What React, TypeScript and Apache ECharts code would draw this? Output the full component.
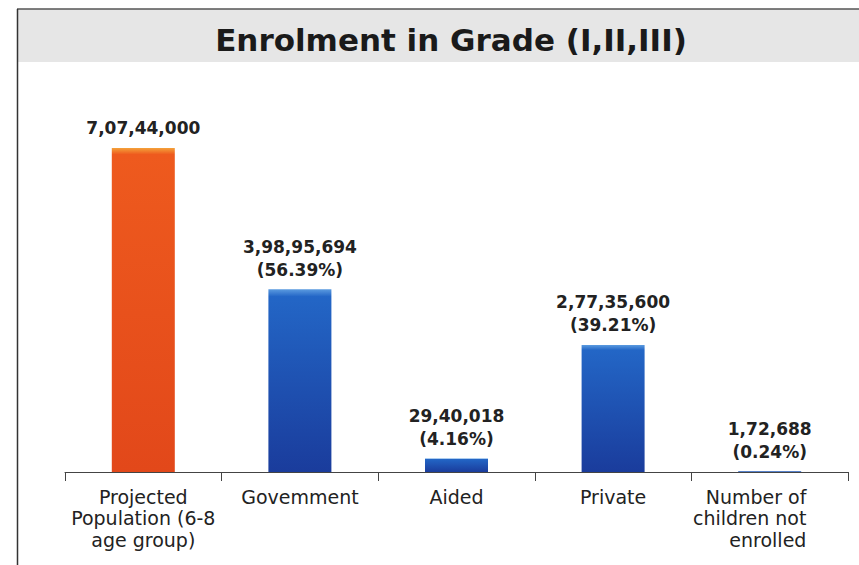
import React, { useEffect, useRef } from "react";
import * as echarts from "echarts";

const categories = [
  "Projected\nPopulation (6-8\nage group)",
  "Govemment",
  "Aided",
  "Private",
  "Number of\nchildren not\nenrolled",
];
const values = [70744000, 39895694, 2940018, 27735600, 172688];
const titleText = "Enrolment in Grade (I,II,III)";

function indianFormat(n: number): string {
  const s = String(Math.round(n));
  if (s.length <= 3) return s;
  const last3 = s.slice(-3);
  let rest = s.slice(0, -3);
  const parts: string[] = [];
  while (rest.length > 2) {
    parts.unshift(rest.slice(-2));
    rest = rest.slice(0, -2);
  }
  if (rest) parts.unshift(rest);
  return parts.join(",") + "," + last3;
}

const FONT = "DejaVu Sans";

export default function App() {
  const ref = useRef<HTMLDivElement>(null);
  useEffect(() => {
    document.body.style.margin = "0";
    const chart = echarts.init(ref.current!, null, { renderer: "svg" });
    const total = values[0];
    const orange = new echarts.graphic.LinearGradient(0, 0, 0, 1, [
      { offset: 0, color: "#F4A23A" },
      { offset: 0.02, color: "#EE5A1E" },
      { offset: 1, color: "#E2481A" },
    ]);
    const blue = () =>
      new echarts.graphic.LinearGradient(0, 0, 0, 1, [
        { offset: 0, color: "#5B9BE0" },
        { offset: 0.04, color: "#2366C6" },
        { offset: 1, color: "#1A3C9C" },
      ]);
    chart.setOption({
      animation: false,
      backgroundColor: "#ffffff",
      graphic: [
        {
          type: "rect",
          shape: { x: 17, y: 9, width: 842, height: 53 },
          style: { fill: "#E6E6E6" },
          z: -1,
        },
        {
          type: "line",
          shape: { x1: 17, y1: 9, x2: 859, y2: 9 },
          style: { stroke: "#555", lineWidth: 1.5 },
        },
        {
          type: "line",
          shape: { x1: 17.5, y1: 9, x2: 17.5, y2: 565 },
          style: { stroke: "#333", lineWidth: 1.5 },
        },
      ],
      title: {
        text: titleText,
        left: 446,
        textAlign: "center",
        top: 19,
        textStyle: {
          fontFamily: FONT,
          fontWeight: "bold",
          fontSize: 31,
          color: "#1a1a1a",
        },
      },
      grid: { left: 65, right: 11, top: 105.6, bottom: 93 },
      xAxis: {
        type: "category",
        data: categories,
        axisLine: { lineStyle: { color: "#444", width: 1 } },
        axisTick: { show: true, length: 9, lineStyle: { color: "#444" } },
        axisLabel: {
          interval: 0,
          margin: 14,
          fontFamily: FONT,
          fontSize: 19,
          lineHeight: 21.5,
          color: "#222",
          formatter: (v: string, i: number) =>
            i === categories.length - 1
              ? v
                  .split("\n")
                  .map((l) => "{r|" + l + "}{s|}")
                  .join("\n")
              : v,
          rich: {
            r: {
              align: "right",
              fontFamily: FONT,
              fontSize: 19,
              lineHeight: 21.5,
              color: "#222",
            },
            s: {
              align: "right",
              width: 40,
              fontSize: 19,
              lineHeight: 21.5,
            },
          },
        },
      },
      yAxis: { type: "value", min: 0, max: 80000000, show: false },
      series: [
        {
          type: "bar",
          barWidth: 63,
          data: values.map((v, i) => ({
            value: v,
            itemStyle: { color: i === 0 ? orange : blue() },
          })),
          label: {
            show: true,
            position: "top",
            distance: 8,
            fontFamily: FONT,
            fontWeight: "bold",
            fontSize: 17,
            lineHeight: 23,
            color: "#222",
            formatter: (p: any) =>
              p.dataIndex === 0
                ? indianFormat(p.value)
                : indianFormat(p.value) +
                  "\n(" +
                  ((p.value / total) * 100).toFixed(2) +
                  "%)",
          },
        },
      ],
    });
    return () => chart.dispose();
  }, []);
  return (
    <div
      ref={ref}
      style={{ position: "fixed", left: 0, top: 0, width: 859, height: 565 }}
    />
  );
}
